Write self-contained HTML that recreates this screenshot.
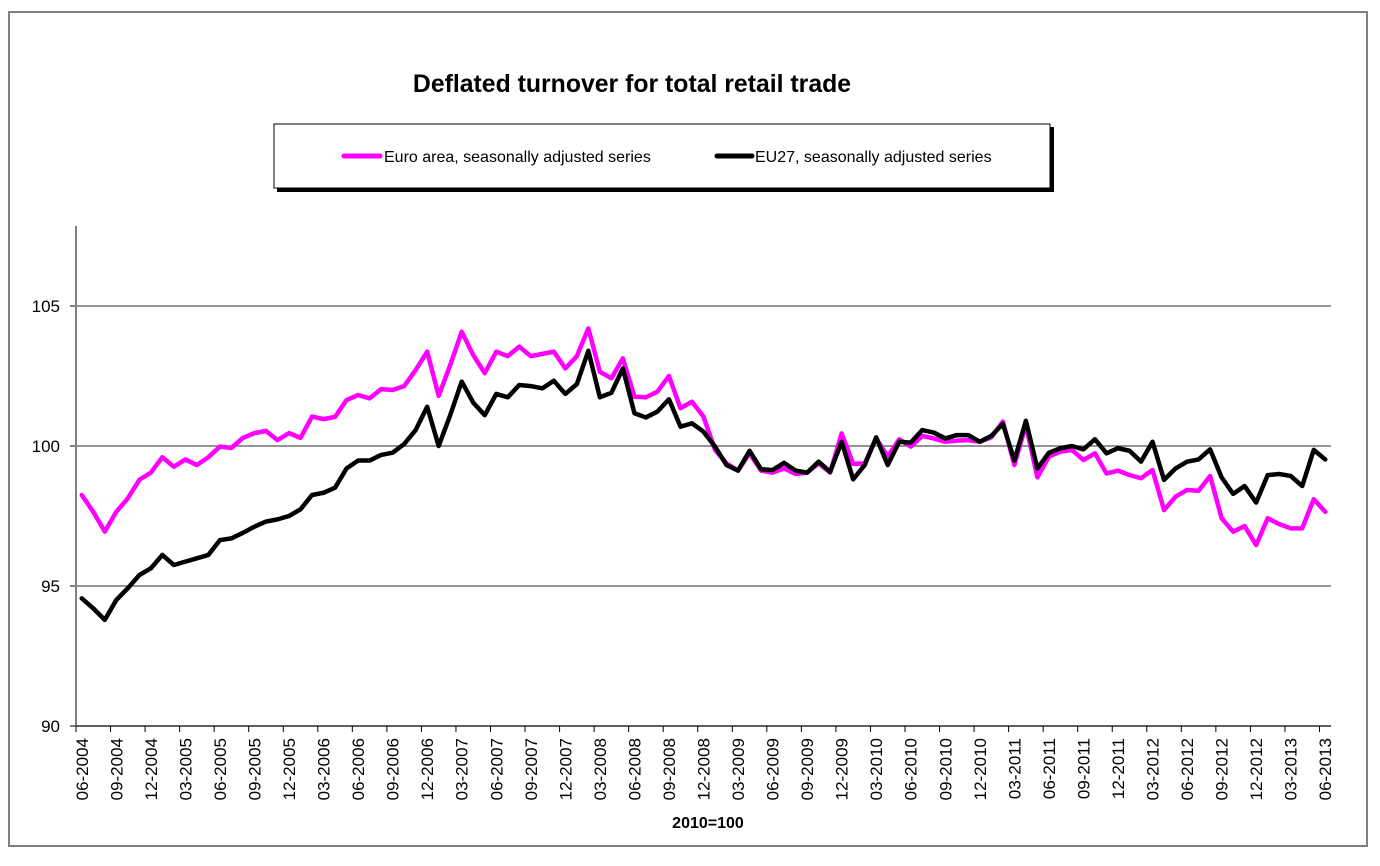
<!DOCTYPE html>
<html><head><meta charset="utf-8"><style>
html,body{margin:0;padding:0;background:#fff;}
svg{display:block;font-family:"Liberation Sans",Arial,sans-serif;}
</style></head><body>
<svg id="chart" width="1380" height="866" viewBox="0 0 1380 866">
<rect x="9" y="12" width="1358" height="834" fill="#fff" stroke="#808080" stroke-width="2"/>
<text x="632" y="92" text-anchor="middle" font-size="24.8" font-weight="bold">Deflated turnover for total retail trade</text>
<g>
<rect x="277" y="127" width="777" height="65" fill="#000"/>
<rect x="274" y="124" width="776" height="64" fill="#fff" stroke="#000" stroke-width="1"/>
<g>
<line x1="344" y1="156" x2="380" y2="156" stroke="#ff00ff" stroke-width="5" stroke-linecap="round"/>
<text x="384" y="162" font-size="16">Euro area, seasonally adjusted series</text>
</g>
<g>
<line x1="717" y1="156" x2="752" y2="156" stroke="#000" stroke-width="5" stroke-linecap="round"/>
<text x="755" y="162" font-size="16">EU27, seasonally adjusted series</text>
</g>
</g>
<g id="grid"></g>
<g id="axes"></g>
<g id="series"></g>
<text x="708" y="828" text-anchor="middle" font-size="16" font-weight="bold">2010=100</text>
</svg>
<script>
const yTicks = [90, 95, 100, 105];
const euroArea = [98.25,97.65,96.94,97.65,98.13,98.79,99.05,99.6,99.26,99.52,99.32,99.6,99.98,99.93,100.29,100.46,100.54,100.21,100.46,100.29,101.05,100.96,101.04,101.64,101.82,101.7,102.03,102.0,102.14,102.71,103.37,101.79,102.89,104.08,103.25,102.6,103.37,103.21,103.55,103.21,103.29,103.37,102.77,103.21,104.2,102.65,102.42,103.13,101.76,101.74,101.94,102.5,101.35,101.58,101.05,99.86,99.38,99.12,99.74,99.12,99.05,99.2,99.0,99.05,99.38,99.05,100.45,99.36,99.38,100.27,99.62,100.24,99.98,100.36,100.27,100.15,100.19,100.21,100.15,100.31,100.87,99.32,100.75,98.88,99.62,99.8,99.86,99.5,99.74,99.02,99.12,98.96,98.85,99.14,97.71,98.19,98.43,98.4,98.93,97.42,96.94,97.14,96.46,97.42,97.21,97.06,97.06,98.1,97.65];
const eu27 = [94.56,94.2,93.79,94.5,94.92,95.39,95.63,96.11,95.75,95.87,95.99,96.11,96.64,96.7,96.9,97.12,97.3,97.38,97.5,97.74,98.25,98.33,98.51,99.2,99.48,99.48,99.68,99.76,100.07,100.57,101.4,100.0,101.1,102.3,101.55,101.1,101.86,101.74,102.18,102.14,102.06,102.33,101.86,102.21,103.4,101.74,101.9,102.77,101.17,101.02,101.23,101.67,100.69,100.81,100.51,99.98,99.32,99.12,99.83,99.17,99.14,99.4,99.12,99.05,99.44,99.08,100.15,98.81,99.32,100.31,99.32,100.15,100.12,100.57,100.48,100.27,100.39,100.39,100.15,100.36,100.79,99.48,100.9,99.2,99.76,99.92,100.0,99.88,100.24,99.74,99.92,99.83,99.44,100.15,98.79,99.2,99.44,99.52,99.88,98.88,98.29,98.57,97.98,98.96,99.0,98.93,98.57,99.86,99.52];
const startYear = 2004, startMonth = 6;

const NS = 'http://www.w3.org/2000/svg';
const X0 = 76, X1 = 1331, YBOT = 726, YTOP = 226;
const n = euroArea.length;
const step = (X1 - X0) / n;
function xPos(i){ return X0 + step * (i + 0.5); }
function xEdge(k){ return X0 + step * k; }
function yPos(v){ return YBOT - (v - 90) * 28; }
function mk(tag, attrs, parent){ const e = document.createElementNS(NS, tag); for (const k in attrs) e.setAttribute(k, attrs[k]); parent.appendChild(e); return e; }

const grid = document.getElementById('grid');
const axes = document.getElementById('axes');
const series = document.getElementById('series');

yTicks.forEach(v => {
  const y = yPos(v);
  if (v > 90) {
    const g = mk('line', {x1: X0, x2: X1, y1: y, y2: y, stroke: '#555', 'stroke-width': 1.2}, grid);
    
    
  }
  const t = mk('line', {x1: X0 - 6, x2: X0, y1: y, y2: y, stroke: '#000', 'stroke-width': 1}, axes);
  
  
  const lb = mk('text', {x: X0 - 16, y: y + 6, 'text-anchor': 'end', 'font-size': 17}, axes);
  lb.textContent = String(v);
  
  
});

const ya = mk('line', {x1: X0, x2: X0, y1: YTOP, y2: YBOT, stroke: '#808080', 'stroke-width': 2}, axes);


const xa = mk('line', {x1: X0, x2: X1, y1: YBOT, y2: YBOT, stroke: '#000', 'stroke-width': 1.2}, axes);



for (let k = 0; k < n; k += 3) {
  const xe = xEdge(k);
  const tk = mk('line', {x1: xe, x2: xe, y1: YBOT, y2: YBOT + 6, stroke: '#000', 'stroke-width': 1}, axes);
  
  
  const m = (startMonth - 1 + k) % 12 + 1;
  const yr = startYear + Math.floor((startMonth - 1 + k) / 12);
  const label = (m < 10 ? '0' : '') + m + '-' + yr;
  const xc = xPos(k) + 6;
  const tx = mk('text', {x: 0, y: 0, 'text-anchor': 'end', 'font-size': 17, transform: 'translate(' + xc + ',' + (YBOT + 12) + ') rotate(-90)'}, axes);
  tx.textContent = label;
  
  
}

function drawLine(vals, color, name){
  const d = vals.map((v, i) => (i ? 'L' : 'M') + xPos(i).toFixed(2) + ',' + yPos(v).toFixed(2)).join(' ');
  const p = mk('path', {d: d, fill: 'none', stroke: color, 'stroke-width': 4.5, 'stroke-linejoin': 'round', 'stroke-linecap': 'round'}, series);
  
  
}
drawLine(euroArea, '#ff00ff', 'euro-area-line');
drawLine(eu27, '#000000', 'eu27-line');
</script>
</body></html>
